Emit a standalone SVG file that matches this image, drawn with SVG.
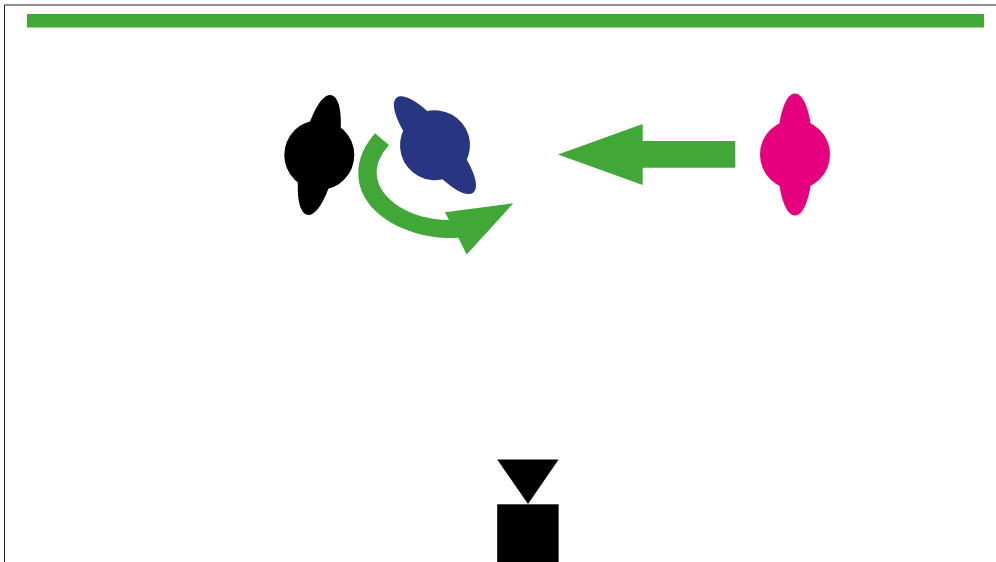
<svg xmlns="http://www.w3.org/2000/svg" width="996" height="562" viewBox="0 0 996 562">
<style>
.g{fill:#41a737}
.k{fill:#000}
.b{fill:#283583}
.p{fill:#e6007e}
</style>
<defs>
<g id="body">
<circle r="35"/>
<path d="M0,-61C9,-61 15,-42 17,-20V20C15,42 9,61 0,61C-9,61 -15,42 -17,20V-20C-15,-42 -9,-61 0,-61Z"/>
</g>
</defs>
<rect width="996" height="562" fill="#fff"/>
<path id="frame" d="M4.5,562V5H996" fill="none" stroke="#222" stroke-width="1"/>
<rect id="bar" class="g" x="27" y="14" width="957" height="13.5"/>
<g id="node-black" class="k"><use href="#body" transform="translate(319.3,155) rotate(11.4)"/></g>
<g id="node-blue" class="b"><use href="#body" transform="translate(435,145.2) rotate(-39)"/></g>
<g id="node-pink" class="p"><use href="#body" transform="translate(795,154.5)"/></g>
<g id="node-bottom" class="k">
<path d="M497.2,459.5H558.6L528,504Z"/>
<rect x="497.2" y="504.3" width="61.4" height="57.7"/>
</g>
<g id="connectors">
<path class="g" d="M375,133.3L389,145C381,154 376.7,163 376.7,173C376.7,198 410,220 449,220L445,212.3L513.3,203.3L466.7,254.5L458.3,237.7C415,241 358.3,217 358.3,173C358.3,158 365,145 375,133.3Z"/>
<path class="g" d="M558,154.5L642.7,124V141H735.3V167.7H642.7V185Z"/>
</g>
</svg>
